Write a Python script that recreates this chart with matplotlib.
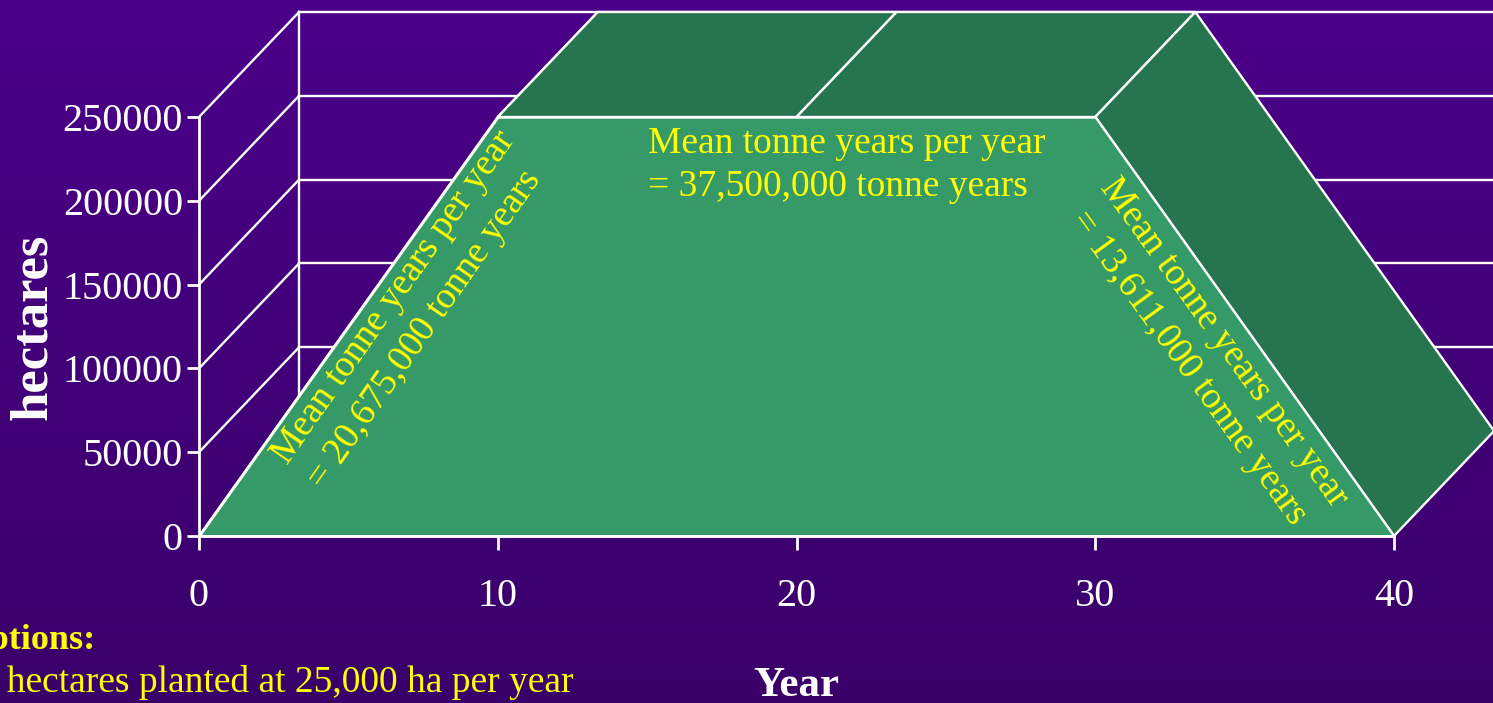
import matplotlib.pyplot as plt
import numpy as np
from matplotlib.patches import Polygon

plt.rcParams['font.family'] = ['Liberation Serif', 'DejaVu Serif']

# area chart data: hectares planted over the rotation
years = [0, 10, 20, 30, 40]
hectares = [0, 250000, 250000, 250000, 0]
x_ticks = [0, 10, 20, 30, 40]
y_ticks = [0, 50000, 100000, 150000, 200000, 250000]

left_note = "Mean tonne years per year\n= 20,675,000 tonne years"
mid_note = "Mean tonne years per year\n= 37,500,000 tonne years"
right_note = "Mean tonne years per year\n= 13,611,000 tonne years"
assume_head = "Assumptions:"
assume_line = "250,000 hectares planted at 25,000 ha per year"

# 3D depth offset in data units (powerpoint style chart)
depth_x = 3.35
depth_y = 62650

front_green = '#359a68'
dark_green = '#27754f'
yellow = '#ffff00'
lw = 1.7

fig = plt.figure(figsize=(14.93, 7.03), dpi=100)

# purple gradient background
bg = fig.add_axes([0, 0, 1, 1])
top = np.array([0x4b, 0x00, 0x89]) / 255
bottom = np.array([0x3a, 0x00, 0x6a]) / 255
t = np.linspace(0, 1, 256).reshape(-1, 1, 1)
bg.imshow(top + (bottom - top) * t, aspect='auto', extent=[0, 1, 0, 1])
bg.axis('off')

ax = fig.add_axes([199 / 1493, 167 / 703, 1195 / 1493, 419 / 703])
ax.patch.set_alpha(0)
ax.set_xlim(0, 40)
ax.set_ylim(0, 250000)

# walls: back gridlines, side diagonals, back vertical
for h in y_ticks:
    ax.plot([depth_x, 40 + depth_x], [h + depth_y, h + depth_y], color='white', lw=lw, zorder=1, clip_on=False)
    ax.plot([0, depth_x], [h, h + depth_y], color='white', lw=lw, zorder=1, clip_on=False)
ax.plot([depth_x, depth_x], [depth_y, 250000 + depth_y], color='white', lw=lw, zorder=1, clip_on=False)

# depth faces of the area
for i in range(len(years) - 1):
    x0, x1 = years[i], years[i + 1]
    y0, y1 = hectares[i], hectares[i + 1]
    pts = [(x0, y0), (x1, y1), (x1 + depth_x, y1 + depth_y), (x0 + depth_x, y0 + depth_y)]
    ax.add_patch(Polygon(pts, closed=True, fc=dark_green, ec='white', lw=lw,
                         zorder=2, clip_on=False, joinstyle='round'))

# front face
ax.fill_between(years, hectares, color=front_green, ec='white', lw=lw, zorder=3, clip_on=False)

for s in ['top', 'right']:
    ax.spines[s].set_visible(False)
for s in ['left', 'bottom']:
    ax.spines[s].set_color('white')
    ax.spines[s].set_linewidth(2)
    ax.spines[s].set_zorder(5)

ax.set_xticks(x_ticks, labels=[str(v) for v in x_ticks])
ax.set_yticks(y_ticks, labels=[str(v) for v in y_ticks])
ax.tick_params(axis='x', colors='white', width=2, length=10, pad=20, labelsize=29)
ax.tick_params(axis='y', colors='white', width=2, length=8.6, pad=3, labelsize=29)

ax.text(-0.139, 0.5, 'hectares', transform=ax.transAxes, rotation=90, ha='center', va='center',
        fontsize=38, fontweight='bold', color='white')
ax.text(0.5, -0.382, 'Year', transform=ax.transAxes, ha='center', va='baseline',
        fontsize=31, fontweight='bold', color='white')

# yellow annotations
ax.text(15.03, 244600, mid_note, ha='left', va='top', fontsize=27, color=yellow,
        linespacing=1.34, zorder=6)
ax.text(7.13, 134900, left_note, ha='center', va='center', multialignment='left',
        rotation=55, rotation_mode='anchor', fontsize=27, color=yellow, linespacing=1.34, zorder=6)
ax.text(33.7, 108000, right_note, ha='center', va='center', multialignment='center',
        rotation=-54, rotation_mode='anchor', fontsize=27, color=yellow, linespacing=1.34, zorder=6)

fig.text(96 / 1493, 54 / 703, assume_head, ha='right', va='baseline', fontsize=26,
         fontweight='bold', color=yellow)
fig.text(574 / 1493, 11 / 703, assume_line, ha='right', va='baseline', fontsize=27, color=yellow)

fig.savefig('out.png', dpi=100)
